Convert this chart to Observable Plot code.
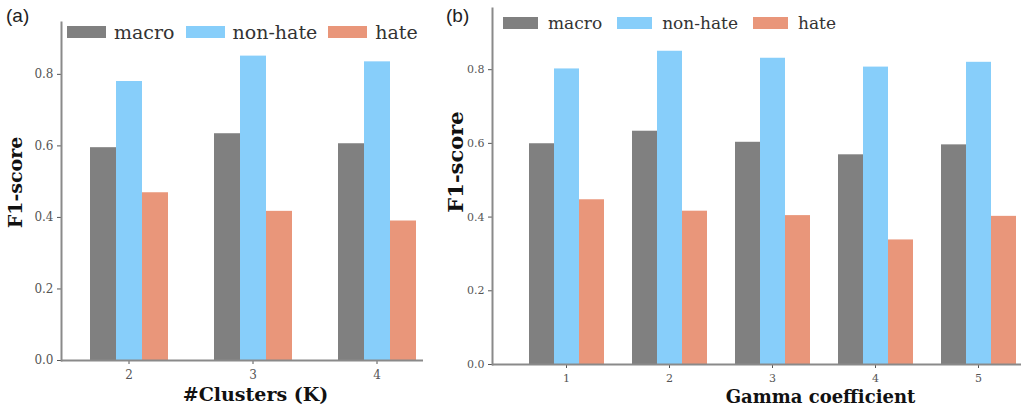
<!DOCTYPE html>
<html>
<head>
<meta charset="utf-8">
<script src="https://cdn.jsdelivr.net/npm/d3@7"></script>
<script src="https://cdn.jsdelivr.net/npm/@observablehq/plot@0.6"></script>
<style>
  html, body { margin: 0; padding: 0; background: #fff; }
  #wrap { position: relative; width: 1024px; height: 408px; overflow: hidden; background: #fff; }
  .panel { position: absolute; top: 0; height: 408px; }
  .panel svg { position: absolute; top: 0; left: 0; }
  .tag { position: absolute; font-family: "Liberation Sans", Arial, sans-serif; color: #222; }
  .legend { position: absolute; display: flex; align-items: center; font-family: "DejaVu Serif", serif; color: #333; white-space: nowrap; }
  .legend .sw { display: inline-block; }
</style>
</head>
<body>
<div id="wrap"></div>
<script>
// ---- data ----
const series = ["macro", "non-hate", "hate"];
const seriesColors = ["#808080", "#87cefa", "#e9967a"];
const yTicks = [0, 0.2, 0.4, 0.6, 0.8];

// panel (a): number of clusters K
const clusters = [2, 3, 4];
const clustersMacro = [0.595, 0.634, 0.606];
const clustersNonHate = [0.780, 0.851, 0.835];
const clustersHate = [0.469, 0.417, 0.390];

// panel (b): gamma coefficient
const gammas = [1, 2, 3, 4, 5];
const gammaMacro = [0.599, 0.633, 0.603, 0.569, 0.596];
const gammaNonHate = [0.802, 0.850, 0.831, 0.807, 0.820];
const gammaHate = [0.447, 0.416, 0.404, 0.338, 0.402];

function table(groups, cols) {
  const rows = [];
  groups.forEach((g, i) => {
    series.forEach((s, j) => rows.push({group: g, series: s, value: cols[j][i]}));
  });
  return rows;
}
const dataA = table(clusters, [clustersMacro, clustersNonHate, clustersHate]);
const dataB = table(gammas, [gammaMacro, gammaNonHate, gammaHate]);

const wrap = document.getElementById("wrap");

function panel(cfg) {
  const div = document.createElement("div");
  div.className = "panel";
  div.style.left = cfg.left + "px";
  div.style.width = cfg.width + "px";
  wrap.appendChild(div);

  const common = {
    width: cfg.width, height: 408,
    marginLeft: cfg.mL, marginRight: cfg.mR, marginTop: cfg.mT, marginBottom: cfg.mB
  };
  const band = {domain: cfg.groups, paddingInner: cfg.pi, paddingOuter: cfg.po, align: cfg.align};

  // bars (faceted by group, dodged by series)
  const bars = Plot.plot({
    ...common,
    style: {background: "transparent"},
    fx: {...band, axis: null, label: null},
    x: {domain: series, padding: 0, axis: null},
    y: {domain: [0, cfg.ymax], axis: null},
    color: {domain: series, range: seriesColors},
    marks: [
      Plot.barY(cfg.data, {fx: "group", x: "series", y: "value", fill: "series"})
    ]
  });
  div.appendChild(bars);

  // axes, spines and titles
  const axes = Plot.plot({
    ...common,
    style: {background: "transparent", fontFamily: "DejaVu Serif, serif", fontSize: cfg.tickFont + "px", color: "#555"},
    x: {type: "band", ...band, label: null, tickSize: 4, tickPadding: cfg.xPad},
    y: {domain: [0, cfg.ymax], ticks: yTicks, tickFormat: ".1f", label: null, tickSize: 4, tickPadding: 4},
    marks: [
      Plot.ruleY([0], {stroke: "#8a8a8a", strokeWidth: 2}),
      Plot.frame({anchor: "left", stroke: "#8a8a8a", strokeWidth: 2}),
      Plot.text([cfg.xTitle], {frameAnchor: "bottom", dx: cfg.xTdx, dy: cfg.xTdy, lineAnchor: "bottom", textAnchor: "middle",
        fontSize: cfg.xTfont, fontWeight: "bold", fill: "#111", fontFamily: "DejaVu Serif, serif"}),
      Plot.text(["F1-score"], {frameAnchor: "left", rotate: -90, dx: cfg.yTdx, dy: cfg.yTdy, lineAnchor: "middle", textAnchor: "middle",
        fontSize: cfg.yTfont, fontWeight: "bold", fill: "#111", fontFamily: "DejaVu Serif, serif"})
    ]
  });
  div.appendChild(axes);

  // panel tag
  const tag = document.createElement("div");
  tag.className = "tag";
  tag.textContent = cfg.tag;
  tag.style.left = cfg.tagX + "px";
  tag.style.top = cfg.tagY + "px";
  tag.style.fontSize = cfg.tagFont + "px";
  div.appendChild(tag);

  // legend
  const lg = document.createElement("div");
  lg.className = "legend";
  lg.style.left = cfg.lgX + "px";
  lg.style.top = cfg.lgY + "px";
  lg.style.fontSize = cfg.lgFont + "px";
  series.forEach((s, i) => {
    const sw = document.createElement("span");
    sw.className = "sw";
    sw.style.width = cfg.swW + "px";
    sw.style.height = cfg.swH + "px";
    sw.style.background = seriesColors[i];
    sw.style.marginRight = cfg.swGap + "px";
    const t = document.createElement("span");
    t.textContent = s;
    if (i < series.length - 1) t.style.marginRight = cfg.itemGap + "px";
    lg.appendChild(sw);
    lg.appendChild(t);
  });
  div.appendChild(lg);
}

panel({
  left: 0, width: 443, mL: 61, mR: 20, mT: 22, mB: 48, ymax: 0.945,
  groups: clusters, data: dataA, pi: 0.361, po: 0.136, align: 0.8,
  tickFont: 12, xPad: 6,
  xTitle: "#Clusters (K)", xTdx: 13, xTdy: 40.5, xTfont: 19,
  yTdx: -46, yTdy: -9, yTfont: 19,
  tag: "(a)", tagX: 6, tagY: 5, tagFont: 19,
  lgX: 67, lgY: 21, lgFont: 19, swW: 39, swH: 12, swGap: 8, itemGap: 11
});

panel({
  left: 443, width: 581, mL: 49, mR: 3, mT: 8, mB: 44, ymax: 0.966,
  groups: gammas, data: dataB, pi: 0.263, po: 0.177, align: 0.878,
  tickFont: 11, xPad: 6,
  xTitle: "Gamma coefficient", xTdx: 63.5, xTdy: 38.5, xTfont: 18,
  yTdx: -36.5, yTdy: -24.5, yTfont: 21,
  tag: "(b)", tagX: 3, tagY: 5, tagFont: 19,
  lgX: 60, lgY: 13, lgFont: 17, swW: 35, swH: 12, swGap: 10, itemGap: 15
});
</script>
</body>
</html>
